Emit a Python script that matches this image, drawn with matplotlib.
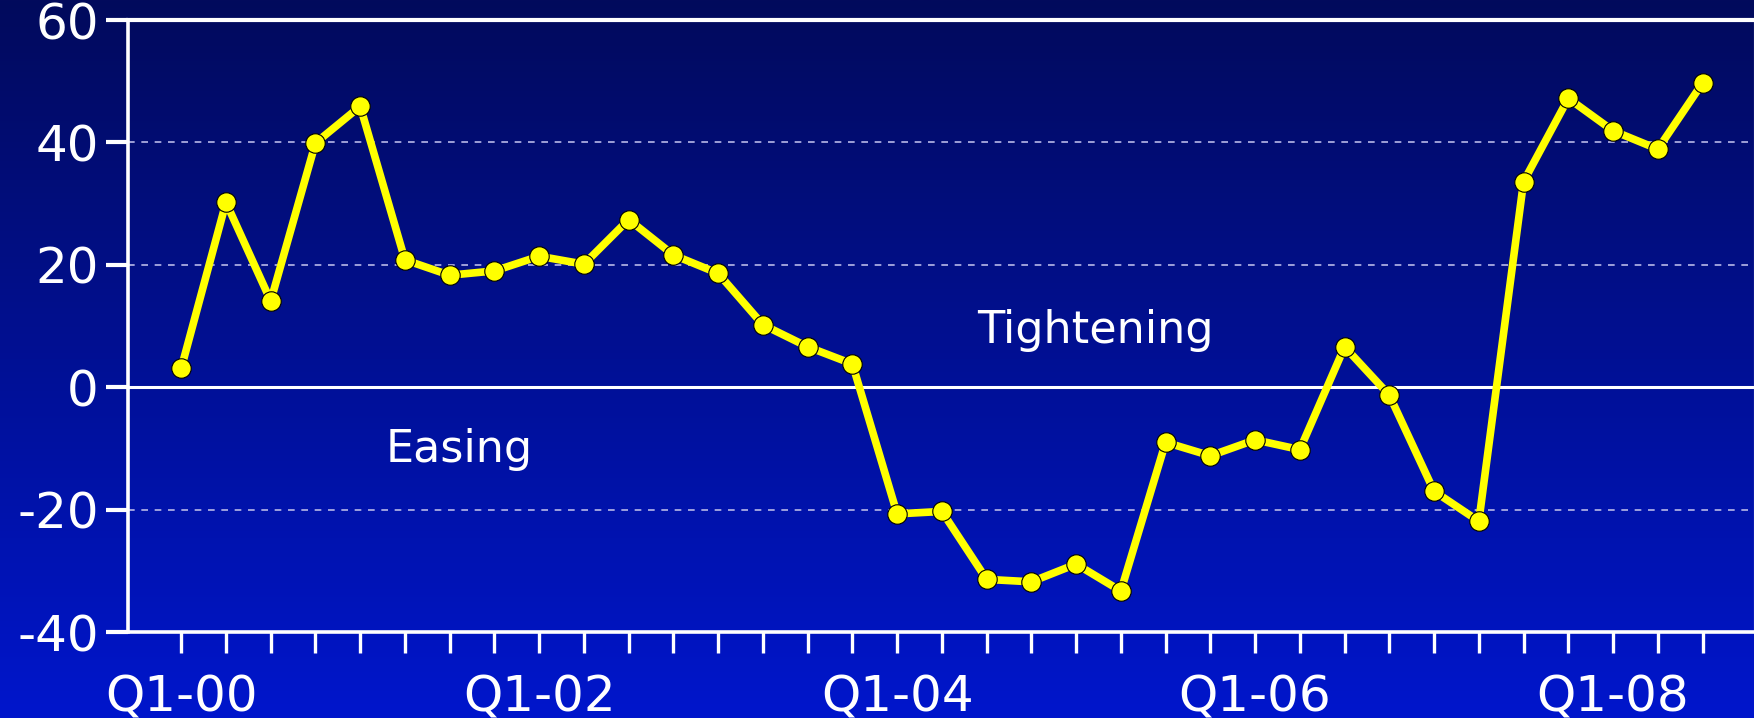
import numpy as np
import matplotlib
matplotlib.use("Agg")
import matplotlib.pyplot as plt
from matplotlib.colors import LinearSegmentedColormap

# quarterly index, Q1-00 .. Q3-08
quarters = list(range(35))
values = [3.1, 30.2, 14.1, 39.9, 45.9, 20.8, 18.3, 19.0, 21.4, 20.1,
          27.4, 21.6, 18.6, 10.2, 6.6, 3.8, -20.7, -20.3, -31.4, -31.8,
          -28.9, -33.3, -9.0, -11.2, -8.6, -10.2, 6.6, -1.3, -17.0, -21.9,
          33.6, 47.2, 41.9, 38.9, 49.7]
label_pos = [0, 8, 16, 24, 32]
label_text = ["Q1-00", "Q1-02", "Q1-04", "Q1-06", "Q1-08"]
y_ticks = [-40, -20, 0, 20, 40, 60]

plt.rcParams['font.family'] = ['DejaVu Sans']

fig = plt.figure(figsize=(17.54, 7.18), dpi=100)

# background gradient over the whole figure
bg = fig.add_axes([0, 0, 1, 1], zorder=0)
grad = np.linspace(0, 1, 256).reshape(-1, 1)
cmap = LinearSegmentedColormap.from_list("navy", ["#020a5c", "#0016cc"])
bg.imshow(grad, aspect="auto", cmap=cmap, extent=[0, 1, 0, 1], origin="upper")
bg.axis("off")

ax = fig.add_axes([128 / 1754, 1 - 632 / 718, 1 - 128 / 1754, (632 - 20) / 718], zorder=1)
ax.set_facecolor("none")

ax.plot(quarters, values, color="#ffff00", lw=5.5, marker="o", markersize=14,
        markerfacecolor="#ffff00", markeredgecolor="#000000", markeredgewidth=0.8,
        zorder=4, clip_on=False)

for g in [40, 20, -20]:
    ax.axhline(g, color="#b8b8e8", lw=1.2, ls=(0, (4, 4)), zorder=1)
ax.axhline(0, color="white", lw=2.2, zorder=2)

ax.set_xlim(-1.19, 35.15)
ax.set_ylim(-40, 60)
ax.set_yticks(y_ticks)
ax.set_yticklabels([str(v) for v in y_ticks])
ax.set_xticks(quarters)
ax.set_xticklabels([label_text[label_pos.index(q)] if q in label_pos else "" for q in quarters])

for side in ["left", "bottom", "top"]:
    ax.spines[side].set_color("white")
ax.spines["left"].set_linewidth(2.6)
ax.spines["bottom"].set_linewidth(2.6)
ax.spines["top"].set_linewidth(3)
ax.spines["right"].set_color("#c0c0f0")
ax.spines["right"].set_linewidth(0.8)

ax.tick_params(axis="x", length=15, width=2.4, color="white", direction="out",
               labelsize=36, labelcolor="white", pad=15)
ax.tick_params(axis="y", length=16, width=3, color="white", direction="out",
               labelsize=36, labelcolor="white", pad=5)

ax.text(20.42, 7.2, "Tightening", color="white", fontsize=32, ha="center", va="baseline")
ax.text(6.22, -12.25, "Easing", color="white", fontsize=32, ha="center", va="baseline")

fig.savefig("out.png", dpi=100)
